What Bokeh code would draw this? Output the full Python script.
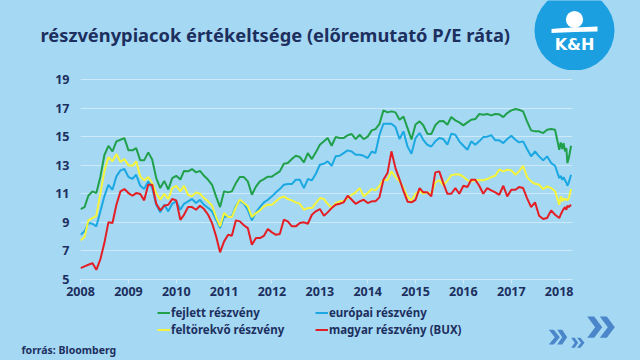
import pandas as pd
from bokeh.plotting import figure
from bokeh.layouts import column, row
from bokeh.models import (Range1d, FixedTicker, DatetimeTickFormatter, Legend, LegendItem,
                          GlobalInlineStyleSheet)
from bokeh.core.properties import value
from bokeh.embed import file_html
from bokeh.resources import INLINE

BG = "#a5d8f3"
NAVY = "#1c2f5e"
GRID = "#cdeafa"
LOGO = "#1c9fe0"
ARROW = "#4a86c9"

title_text = "részvénypiacok értékeltsége (előremutató P/E ráta)"
source_text = "forrás: Bloomberg"
logo_text = "K&H"
series_names = ["fejlett részvény", "európai részvény", "feltörekvő részvény", "magyar részvény (BUX)"]
series_colors = ["#20a04a", "#1ba8e2", "#f4f43c", "#e41e25"]
year_ticks = list(range(2008, 2019))
y_ticks = [5, 7, 9, 11, 13, 15, 17, 19]

months = pd.date_range("2008-01-01", "2017-12-01", freq="MS")
weeks_2018 = pd.to_datetime(["2018-01-02", "2018-01-13", "2018-01-25", "2018-02-04", "2018-02-15",
                             "2018-02-25", "2018-03-05", "2018-03-16", "2018-04-02"])

fejlett = [
    9.93, 10.07, 10.86, 11.17, 11.05, 12.2, 13.7, 14.36, 13.96, 14.67, 14.78, 14.9,
    14.04, 14.04, 14.2, 13.34, 13.34, 13.9, 13.4, 12.1, 11.4, 11.9, 11.3, 12.1,
    12.26, 12.0, 12.6, 12.57, 12.73, 12.5, 12.6, 12.26, 11.98, 11.63, 10.8, 10.07,
    11.17, 11.1, 11.17, 11.75, 12.17, 12.17, 11.87, 10.93, 11.5, 11.87, 12.03, 12.2,
    12.2, 12.4, 12.57, 13.1, 13.15, 13.43, 13.66, 13.57, 13.2, 13.85, 13.43, 13.9,
    14.43, 14.67, 14.9, 14.36, 14.97, 14.9, 14.9, 15.1, 15.18, 14.83, 15.13, 14.83,
    15.0, 15.44, 15.53, 15.9, 16.84, 16.7, 16.77, 16.7, 16.18, 16.4, 15.6, 14.8,
    15.85, 16.07, 15.8, 15.2, 15.18, 15.8, 16.07, 16.1, 15.83, 16.37, 16.14, 16.0,
    15.79, 16.0, 16.18, 16.23, 16.58, 16.53, 16.58, 16.49, 16.58, 16.56, 16.37, 16.65,
    16.84, 16.93, 16.88, 16.77, 16.07, 15.44, 15.37, 15.37, 15.25, 15.48, 15.53, 15.48,
]
europai = [
    8.13, 8.37, 8.95, 8.9, 8.72, 9.77, 10.82, 11.63, 11.28, 12.22, 12.64, 12.73,
    12.17, 12.05, 12.33, 11.56, 11.33, 11.87, 11.4, 10.23, 9.7, 10.23, 9.77, 10.3,
    10.47, 9.88, 10.3, 10.47, 10.63, 10.35, 10.58, 10.23, 10.0, 9.77, 9.18, 8.6,
    9.42, 9.37, 9.42, 10.16, 10.51, 10.3, 9.88, 9.14, 9.7, 10.07, 10.4, 10.58,
    10.82, 11.1, 11.33, 11.63, 11.68, 11.68, 11.98, 11.98, 11.4, 12.03, 11.94, 12.4,
    13.03, 13.1, 13.27, 12.96, 13.62, 13.66, 13.85, 14.04, 13.96, 13.73, 13.73, 13.66,
    13.5, 13.96, 13.85, 15.13, 15.9, 15.9, 15.9, 15.67, 14.83, 15.37, 14.3, 13.8,
    14.9, 15.25, 14.78, 14.43, 14.31, 14.67, 14.9, 14.83, 14.43, 15.2, 15.13, 14.67,
    14.36, 14.08, 14.67, 14.43, 14.67, 14.97, 15.0, 15.1, 14.74, 14.74, 14.55, 14.83,
    15.06, 14.78, 14.6, 14.67, 14.13, 13.62, 13.96, 13.62, 13.34, 13.62, 13.15, 12.96,
]
feltorekvo = [
    7.74, 7.97, 9.14, 9.3, 9.46, 11.05, 12.57, 13.57, 13.27, 13.78, 13.22, 13.43,
    12.99, 12.96, 13.27, 12.22, 11.94, 12.17, 11.75, 11.05, 10.58, 11.0, 10.63, 11.4,
    11.56, 11.17, 11.56, 10.93, 10.82, 11.1, 11.0, 10.7, 10.47, 10.16, 9.37, 8.72,
    9.65, 9.37, 9.37, 10.07, 10.58, 10.35, 10.12, 9.37, 9.65, 9.84, 10.12, 10.23,
    10.23, 10.47, 10.7, 10.82, 10.63, 10.54, 10.4, 10.3, 9.88, 10.0, 10.0, 10.35,
    10.7, 10.63, 10.3, 10.0, 10.35, 10.47, 10.47, 10.7, 10.93, 11.1, 11.4, 10.82,
    11.05, 11.33, 11.24, 11.56, 11.98, 11.94, 12.57, 12.17, 11.87, 11.4, 10.8, 10.55,
    11.0, 11.2, 11.0, 11.1, 11.0, 11.8, 11.95, 11.6, 11.9, 12.3, 12.36, 12.35,
    12.2, 11.95, 11.88, 11.95, 11.96, 11.95, 12.03, 12.17, 12.26, 12.7, 12.57, 12.68,
    12.64, 12.33, 12.57, 12.96, 12.17, 11.87, 11.7, 11.63, 11.33, 11.52, 11.4, 11.17,
]
magyar = [
    5.8, 5.92, 6.03, 6.15, 5.68, 6.43, 7.55, 9.0, 8.95, 10.23, 11.17, 11.33,
    11.05, 10.86, 11.05, 10.98, 10.54, 11.63, 11.63, 10.3, 9.84, 10.16, 10.23, 10.63,
    10.54, 9.18, 9.53, 10.07, 10.07, 9.88, 10.16, 9.93, 9.53, 8.95, 8.02, 6.9,
    7.67, 8.13, 8.06, 9.14, 9.07, 8.8, 8.6, 7.43, 7.9, 7.9, 8.06, 8.53,
    8.3, 8.13, 8.18, 9.18, 9.07, 8.72, 8.72, 8.95, 9.0, 8.9, 9.53, 9.77,
    9.93, 9.46, 9.7, 10.0, 10.23, 10.3, 10.4, 10.86, 10.58, 10.3, 10.47, 10.58,
    10.35, 10.47, 10.47, 10.77, 11.98, 12.45, 13.97, 12.8, 12.0, 11.2, 10.45, 10.4,
    10.58, 11.4, 11.1, 11.1, 10.82, 12.5, 12.57, 11.75, 11.0, 11.0, 11.4, 11.0,
    11.56, 11.47, 11.98, 11.98, 11.56, 11.0, 11.4, 11.24, 11.1, 10.93, 11.56, 10.82,
    11.28, 11.28, 11.47, 11.4, 10.7, 10.07, 10.4, 9.46, 9.23, 9.3, 9.84, 9.53,
]
fejlett_2018 = [14.08, 14.6, 14.13, 14.55, 13.97, 14.2, 13.15, 13.5, 14.36]
europai_2018 = [12.1, 12.26, 11.98, 12.17, 11.94, 11.8, 11.56, 11.8, 12.33]
feltorekvo_2018 = [10.23, 10.82, 10.47, 10.7, 10.58, 10.63, 10.54, 10.7, 11.33]
magyar_2018 = [9.3, 9.55, 9.77, 9.93, 10.07, 9.88, 10.16, 10.07, 10.23]

dates = list(months) + list(weeks_2018)
series = [fejlett + fejlett_2018, europai + europai_2018,
          feltorekvo + feltorekvo_2018, magyar + magyar_2018]

W = 640


def deco_figure(height, y_top, y_bottom):
    """Decoration strip whose data coordinates equal page pixels."""
    f = figure(width=W, height=height, output_backend="svg", toolbar_location=None,
               x_range=Range1d(0, W), y_range=Range1d(y_bottom, y_top),
               x_axis_location=None, y_axis_location=None, min_border=0)
    f.background_fill_color = BG
    f.border_fill_color = BG
    f.outline_line_color = None
    f.grid.grid_line_color = None
    return f


# ---------- top strip: title + logo ----------
top = deco_figure(70, 0, 70)
top.text(x=[40], y=[34], text=[title_text], text_font=value("Noto Sans"),
         text_font_style="bold", text_font_size="18.3px", text_color=NAVY,
         text_baseline="middle", text_align="left")
top.circle(x=[574], y=[30], radius=40, fill_color=LOGO, line_color=None)
top.circle(x=[574], y=[19], radius=8.6, fill_color="white", line_color=None)
top.patch(x=[551, 562, 574, 586, 597, 597, 574, 551], y=[28.5, 27.5, 27, 26.5, 26, 31, 31.5, 32.5],
          fill_color="white", line_color=None)
top.text(x=[574], y=[43.5], text=[logo_text], text_font=value("DejaVu Sans"),
         text_font_style="bold", text_font_size="16px", text_color="white",
         text_baseline="middle", text_align="center")

# ---------- chart ----------
p = figure(width=W, height=232, output_backend="svg", toolbar_location=None,
           x_axis_type="datetime",
           x_range=Range1d(pd.Timestamp("2008-01-01"), pd.Timestamp("2018-04-13")),
           y_range=Range1d(5, 19.63),
           min_border_left=80, min_border_right=68, min_border_top=0, min_border_bottom=23)
p.background_fill_color = BG
p.border_fill_color = BG
p.outline_line_color = None
p.stylesheets = [GlobalInlineStyleSheet(css="body { background: %s; }" % BG)]

p.xgrid.grid_line_color = None
p.ygrid.grid_line_color = GRID
p.ygrid.grid_line_width = 1

tick_ms = [pd.Timestamp(f"{y}-01-01").value // 10**6 for y in year_ticks]
p.xaxis.ticker = FixedTicker(ticks=tick_ms)
p.xaxis.formatter = DatetimeTickFormatter(years="%Y", months="%Y", days="%Y", hours="%Y",
                                          hourmin="%Y", minutes="%Y", minsec="%Y", seconds="%Y",
                                          milliseconds="%Y", microseconds="%Y")
p.yaxis.ticker = FixedTicker(ticks=y_ticks)
for ax in (p.xaxis[0], p.yaxis[0]):
    ax.major_label_text_font = "Noto Sans"
    ax.major_label_text_font_style = "bold"
    ax.major_label_text_font_size = "12.5px"
    ax.major_label_text_color = NAVY
    ax.minor_tick_line_color = None
p.xaxis.axis_line_color = GRID
p.xaxis.major_tick_line_color = GRID
p.xaxis.major_tick_out = 4
p.xaxis.major_tick_in = 0
p.xaxis.major_label_standoff = 3
p.yaxis.axis_line_color = None
p.yaxis.major_tick_line_color = None
p.yaxis.major_tick_out = 0
p.yaxis.major_tick_in = 0
p.yaxis.major_label_standoff = 11

for vals, col in zip(series, series_colors):
    p.line(dates, vals, line_color=col, line_width=2)

# ---------- bottom strip: legend, source, arrows ----------
bot = deco_figure(58, 302, 360)
nan = float("nan")
keys = [bot.line(x=[nan, nan], y=[nan, nan], line_color=c, line_width=2) for c in series_colors]


def make_legend(idx, loc):
    lg = Legend(items=[LegendItem(label=series_names[i], renderers=[keys[i]]) for i in idx],
                location=loc, orientation="vertical")
    lg.background_fill_alpha = 0
    lg.border_line_color = None
    lg.padding = 0
    lg.margin = 0
    lg.spacing = 2
    lg.glyph_width = 13
    lg.glyph_height = 15
    lg.label_height = 15
    lg.label_standoff = 1
    lg.label_text_font = "Noto Sans"
    lg.label_text_font_style = "bold"
    lg.label_text_font_size = "11.5px"
    lg.label_text_color = NAVY
    return lg


bot.add_layout(make_legend([0, 2], (157, 360 - 337)))
bot.add_layout(make_legend([1, 3], (315, 360 - 337)))

bot.text(x=[21], y=[349], text=[source_text], text_font=value("Noto Sans"),
         text_font_style="bold", text_font_size="10.5px", text_color=NAVY,
         text_baseline="middle", text_align="left")

chev_x0 = [586.7, 599.3, 548.3, 556.7, 570.7, 576.5]
chev_x1 = [601.7, 614.3, 559.3, 566.7, 577.7, 584.0]
chev_y0 = [316, 316, 329.3, 329.3, 337.3, 337.3]
chev_y1 = [337.3, 337.3, 344, 344, 347.3, 347.3]
chev_t = [7, 7, 5, 5, 3.5, 3.5]
cxs, cys = [], []
for x0, x1, y0, y1, t in zip(chev_x0, chev_x1, chev_y0, chev_y1, chev_t):
    ym = (y0 + y1) / 2
    cxs.append([x0, x0 + t, x1, x0 + t, x0, x1 - t])
    cys.append([y0, y0, ym, y1, y1, ym])
bot.patches(cxs, cys, fill_color=ARROW, line_color=None)

layout = column(top, row(p), bot, spacing=0)
open("out.html", "w").write(file_html(layout, INLINE))
